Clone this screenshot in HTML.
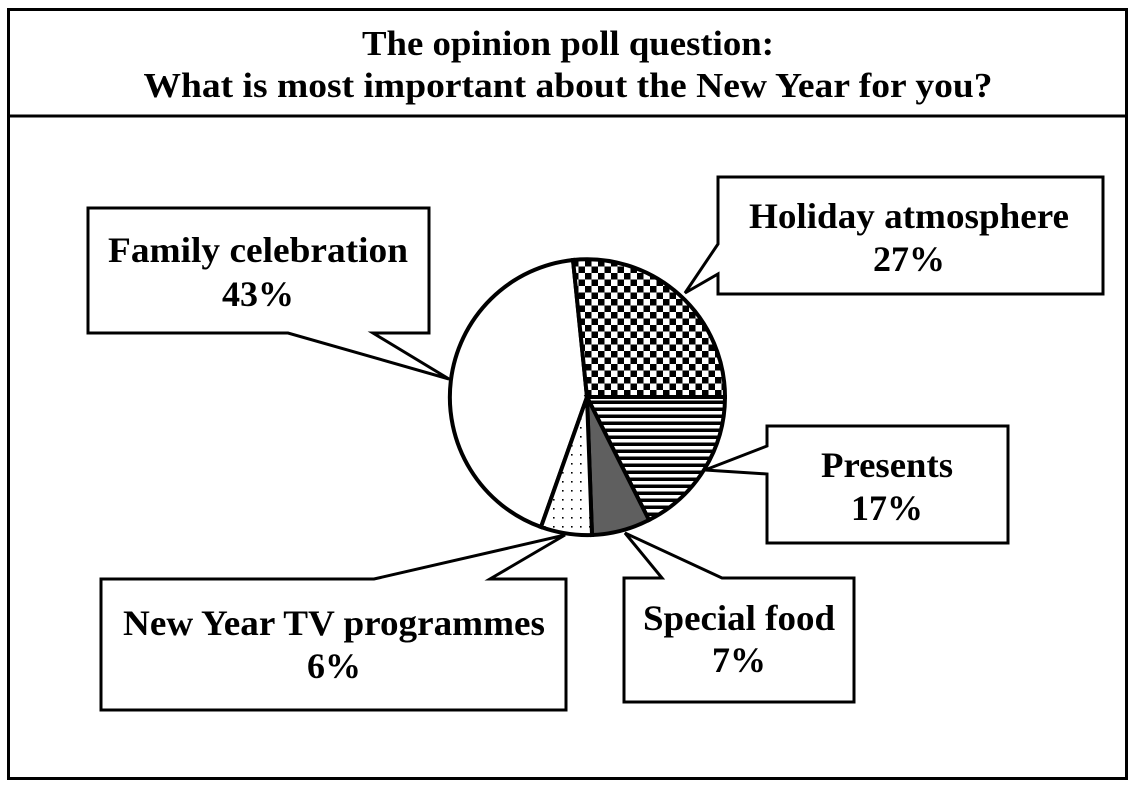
<!DOCTYPE html>
<html><head><meta charset="utf-8"><style>
html,body{margin:0;padding:0;background:#fff;}
svg{display:block;}
text{font-family:"Liberation Serif",serif;font-weight:bold;fill:#000;}
</style></head><body>
<svg width="1133" height="786" viewBox="0 0 1133 786">
<defs>
<pattern id="chk" width="13" height="13" patternUnits="userSpaceOnUse">
<rect width="13" height="13" fill="#fff"/><rect width="6.5" height="6.5" fill="#000"/><rect x="6.5" y="6.5" width="6.5" height="6.5" fill="#000"/>
</pattern>
<pattern id="str" width="10" height="7" patternUnits="userSpaceOnUse" y="397">
<rect width="10" height="7" fill="#fff"/><rect y="3.5" width="10" height="3.5" fill="#000"/>
</pattern>
<pattern id="dot" width="9" height="9" patternUnits="userSpaceOnUse">
<rect width="9" height="9" fill="#fff"/><rect x="4" y="4" width="1.6" height="1.6" fill="#000"/>
</pattern>
</defs>
<rect x="8.5" y="9.5" width="1118" height="769" fill="#fff" stroke="#000" stroke-width="3"/>
<line x1="8" y1="116" x2="1127" y2="116" stroke="#000" stroke-width="3"/>
<text x="568" y="55" font-size="35" text-anchor="middle" textLength="412" lengthAdjust="spacingAndGlyphs">The opinion poll question:</text>
<text x="568" y="97" font-size="35" text-anchor="middle" textLength="849" lengthAdjust="spacingAndGlyphs">What is most important about the New Year for you?</text>

<g stroke="#000" stroke-width="4" stroke-linejoin="miter">
<path d="M587,397 L541,527 A138,138 0 0 1 573,260 Z" fill="#fff"/>
<path d="M587,397 L573,260 A138,138 0 0 1 725,397 Z" fill="url(#chk)"/>
<path d="M587,397 L725,397 A138,138 0 0 1 649,520 Z" fill="url(#str)"/>
<path d="M587,397 L649,520 A138,138 0 0 1 592,535 Z" fill="#5f5f5f"/>
<path d="M587,397 L592,535 A138,138 0 0 1 541,527 Z" fill="url(#dot)"/>
</g>

<g fill="#fff" stroke="#000" stroke-width="3" stroke-linejoin="miter">
<path d="M88,208 H429 V333 H373 L449,379 L288,333 H88 Z"/>
<path d="M718,177 H1103 V294 H718 V274 L685,293 L718,244 Z"/>
<path d="M767,426 H1008 V543 H767 V474 L705,470 L767,446 Z"/>
<path d="M101,579 H374 L565,535 L490,579 H566 V710 H101 Z"/>
<path d="M624,578 H662 L625,533 L722,578 H854 V702 H624 Z"/>
</g>

<g font-size="36" text-anchor="middle">
<text x="258" y="262" textLength="300" lengthAdjust="spacingAndGlyphs">Family celebration</text>
<text x="258" y="306">43%</text>
<text x="909" y="228" textLength="320" lengthAdjust="spacingAndGlyphs">Holiday atmosphere</text>
<text x="909" y="271">27%</text>
<text x="887" y="477" textLength="132" lengthAdjust="spacingAndGlyphs">Presents</text>
<text x="887" y="520">17%</text>
<text x="334" y="635" textLength="422" lengthAdjust="spacingAndGlyphs">New Year TV programmes</text>
<text x="334" y="678">6%</text>
<text x="739" y="630" textLength="192" lengthAdjust="spacingAndGlyphs">Special food</text>
<text x="739" y="672">7%</text>
</g>
</svg>
</body></html>
